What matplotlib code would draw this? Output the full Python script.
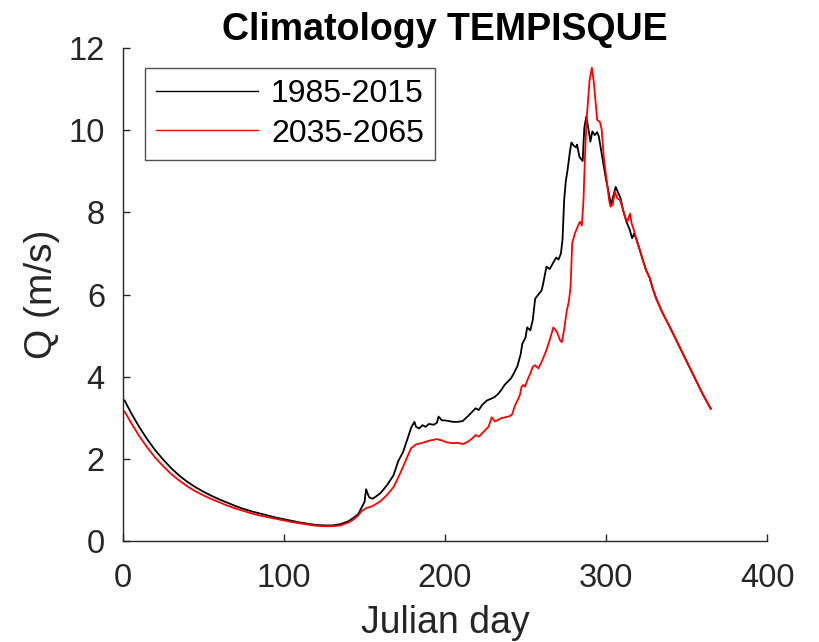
import matplotlib
matplotlib.use("Agg")
import matplotlib.pyplot as plt

plt.rcParams['font.family'] = ['Liberation Sans', 'DejaVu Sans']

# Daily climatological discharge, baseline period
days_hist = [1, 5, 10, 15, 20, 25, 30, 35, 40, 45, 50, 55, 60, 65, 70, 75, 80, 85,
             90, 95, 100, 105, 110, 115, 120, 125, 130, 135, 140, 143, 146, 148, 150,
             151, 152, 153, 155, 157, 160, 164, 168, 171, 174, 177, 179, 181, 182,
             184, 186, 188, 190, 193, 195, 196, 198, 201, 205, 208, 211, 214, 217,
             219, 221, 223, 226, 229, 231, 233, 235, 237, 239, 241, 243, 245, 247,
             248, 250, 251, 253, 254.5, 256, 258, 260, 261, 263, 265, 267, 269,
             270.5, 272, 273, 274, 275, 276, 277.5, 278.5, 280, 281.5, 282, 283.5,
             285.5, 286.5, 287.7, 289, 290.3, 291.5, 293, 294.5, 295.5, 297.3, 298.5,
             300, 301.5, 303, 304.4, 306, 307.5, 309, 310.6, 312.7, 314.7, 316.2,
             317.5, 319, 321, 323, 325, 327, 329, 331, 335, 340, 345, 350, 355, 360,
             365]
q_hist = [3.42, 3.12, 2.78, 2.48, 2.21, 1.98, 1.77, 1.59, 1.44, 1.31, 1.20, 1.10,
          1.01, 0.93, 0.85, 0.78, 0.72, 0.67, 0.62, 0.57, 0.53, 0.49, 0.45, 0.42,
          0.39, 0.38, 0.38, 0.41, 0.48, 0.56, 0.65, 0.80, 0.95, 1.26, 1.15, 1.06,
          1.03, 1.08, 1.17, 1.36, 1.60, 1.95, 2.17, 2.52, 2.76, 2.90, 2.78, 2.74,
          2.82, 2.78, 2.85, 2.83, 2.88, 3.03, 2.94, 2.93, 2.90, 2.90, 2.92, 3.03,
          3.15, 3.23, 3.19, 3.31, 3.42, 3.47, 3.51, 3.58, 3.68, 3.80, 3.88, 3.96,
          4.10, 4.26, 4.55, 4.80, 4.95, 5.20, 5.13, 5.38, 5.90, 6.00, 6.10, 6.27,
          6.68, 6.62, 6.76, 6.90, 6.85, 7.00, 7.35, 8.30, 8.75, 9.00, 9.45, 9.70,
          9.62, 9.58, 9.65, 9.35, 9.25, 10.05, 10.33, 10.05, 9.72, 9.97, 9.88, 9.95,
          9.85, 9.42, 9.15, 8.80, 8.52, 8.18, 8.38, 8.62, 8.48, 8.35, 8.05, 7.77,
          7.58, 7.37, 7.48, 7.33, 7.08, 6.82, 6.58, 6.42, 6.15, 5.92, 5.56, 5.18,
          4.78, 4.38, 3.98, 3.58, 3.22]

# Daily climatological discharge, projected period
days_fut = [1, 5, 10, 15, 20, 25, 30, 35, 40, 45, 50, 55, 60, 65, 70, 75, 80, 85,
            90, 95, 100, 105, 110, 115, 120, 125, 130, 135, 140, 143, 146, 148, 151,
            155, 160, 164, 168, 171, 174, 177, 179, 182, 186, 190, 195, 198, 201,
            205, 208, 211, 214, 217, 219, 221, 224, 227, 229, 231, 233, 235, 237,
            239.5, 241.5, 243.5, 245, 246.5, 247.5, 248.7, 249.7, 251.5, 253, 254.5,
            256, 258, 260, 263, 265, 267.3, 269.4, 271.4, 272.5, 273.8, 275.6, 277,
            278, 279, 280.7, 282.8, 283.8, 285, 286, 287, 288, 289, 289.8, 291.2,
            292.5, 293.5, 294.5, 296.2, 297.3, 298.6, 300.3, 301.9, 302.8, 304.1,
            305.5, 307, 308.7, 310.3, 311.8, 313.2, 314.9, 315.9, 317.3, 319, 321,
            323, 325, 327, 329, 331, 335, 340, 345, 350, 355, 360, 365]
q_fut = [3.15, 2.88, 2.56, 2.28, 2.03, 1.82, 1.63, 1.47, 1.33, 1.21, 1.11, 1.02,
         0.94, 0.86, 0.79, 0.73, 0.67, 0.62, 0.58, 0.54, 0.50, 0.46, 0.43, 0.40,
         0.37, 0.36, 0.36, 0.38, 0.45, 0.52, 0.62, 0.72, 0.80, 0.85, 0.97, 1.12,
         1.31, 1.55, 1.81, 2.09, 2.26, 2.35, 2.39, 2.44, 2.48, 2.45, 2.40, 2.38,
         2.39, 2.36, 2.41, 2.50, 2.58, 2.54, 2.66, 2.78, 3.01, 2.91, 2.95, 2.99,
         3.01, 3.03, 3.07, 3.30, 3.42, 3.55, 3.75, 3.80, 3.76, 3.95, 4.08, 4.24,
         4.28, 4.20, 4.36, 4.65, 4.89, 5.20, 5.10, 4.89, 4.84, 5.10, 5.60, 5.85,
         6.20, 7.25, 7.49, 7.69, 7.77, 7.68, 8.30, 9.44, 10.30, 10.80, 11.22, 11.52,
         11.14, 10.70, 10.25, 10.20, 10.02, 9.35, 8.80, 8.30, 8.14, 8.18, 8.50,
         8.34, 8.30, 8.10, 7.89, 7.77, 7.97, 7.73, 7.57, 7.33, 7.08, 6.82, 6.58,
         6.42, 6.15, 5.92, 5.56, 5.18, 4.78, 4.38, 3.98, 3.58, 3.22]

labels = ['1985-2015', '2035-2065']
x_ticks = [0, 100, 200, 300, 400]
y_ticks = [0, 2, 4, 6, 8, 10, 12]

axis_color = '#262626'

fig = plt.figure(figsize=(8.2, 6.42), dpi=100)
ax = fig.add_axes([0.15, 0.1573, 0.7854, 0.7679])

ax.plot(days_hist, q_hist, color='black', lw=1.3, label=labels[0])
ax.plot(days_fut, q_fut, color='#ff0000', lw=1.3, label=labels[1])

ax.set_xlim(0, 400)
ax.set_ylim(0, 12)
ax.set_xticks(x_ticks)
ax.set_yticks(y_ticks)

for side in ('top', 'right'):
    ax.spines[side].set_visible(False)
for side in ('left', 'bottom'):
    ax.spines[side].set_color(axis_color)
    ax.spines[side].set_linewidth(1.0)

ax.tick_params(direction='in', length=5, width=1.0, colors=axis_color,
               labelsize=23.5, labelcolor=axis_color)
ax.tick_params(axis='x', pad=16)
ax.tick_params(axis='y', pad=13)

ax.set_xlabel('Julian day', fontsize=27, color=axis_color, labelpad=8)
ax.set_ylabel('Q (m/s)', fontsize=28, color=axis_color, labelpad=6)
ax.set_title('Climatology TEMPISQUE', fontsize=27, fontweight='bold', pad=6)

leg = ax.legend(loc='upper left', bbox_to_anchor=(0.034, 0.96), borderaxespad=0,
                fontsize=23, handlelength=3.2, labelspacing=0.3,
                fancybox=False, frameon=True, handletextpad=0.4,
                borderpad=0.35)
leg.get_frame().set_edgecolor(axis_color)
leg.get_frame().set_linewidth(1.0)
for line in leg.get_lines():
    line.set_linewidth(1.0)

fig.savefig('out.png', dpi=100)
